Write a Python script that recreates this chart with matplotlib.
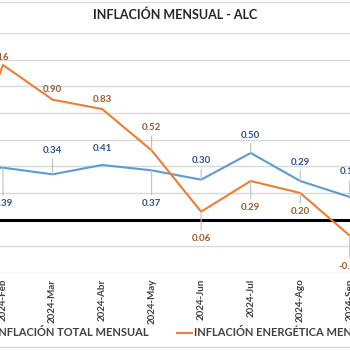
# Inflacion mensual ALC

import matplotlib
matplotlib.use("Agg")
import matplotlib.pyplot as plt
from matplotlib.patches import Rectangle

plt.rcParams['font.family'] = ['Lato', 'DejaVu Sans']

# Datos

meses = ["2024-Ene", "2024-Feb", "2024-Mar", "2024-Abr", "2024-May",
         "2024-Jun", "2024-Jul", "2024-Ago", "2024-Sep"]
inflacion_total = [0.40, 0.39, 0.34, 0.41, 0.37, 0.30, 0.50, 0.29, 0.17]
inflacion_energetica = [0.15, 1.16, 0.90, 0.83, 0.52, 0.06, 0.29, 0.20, -0.12]

# Posicion de etiquetas (pixeles) y lineas guia
off_total = [(0, -36), (0, -36), (0, 24), (0, 17), (0, -33), (0, 19), (0, 18), (0, 19), (0, 25)]
guia_total = [False, True, True, False, True, True, True, True, True]
off_energ = [(0, 8), (-4, 7), (0, 10), (0, 10), (0, 23), (0, -27), (0, -26), (0, -19), (0, -31)]
guia_energ = [False, False, False, False, True, True, True, True, True]

AZUL = "#5B9BD5"
NARANJA = "#ED7D31"
TXT_AZUL = "#2F4F8F"
TXT_NARANJA = "#9C5A2C"

# Figura

fig = plt.figure(figsize=(3.5, 3.5), dpi=100)
ax = fig.add_axes([0, 1 - 273 / 350, 1, (273 - 33) / 350])

x = list(range(len(meses)))

for g in [-0.4, -0.2, 0.2, 0.4, 0.6, 0.8, 1.0, 1.2, 1.4]:
    ax.axhline(g, color="#d9d9d9", lw=1.0, zorder=0)
ax.axhline(0, color="black", lw=2.2, zorder=1)

ax.plot(x, inflacion_total, color=AZUL, lw=1.5, zorder=3, label="INFLACIÓN TOTAL MENSUAL")
ax.plot(x, inflacion_energetica, color=NARANJA, lw=1.5, zorder=3, label="INFLACIÓN ENERGÉTICA MENSUAL")

ax.set_xticks(x)
ax.set_xticklabels(meses, rotation=90, fontsize=7, fontweight="bold", color="#404040")
ax.tick_params(axis="x", length=0, pad=4)
ax.set_yticks([])

paso = (350 - 3) / 7
ax.set_xlim(1 - 3 / paso, 8.005)
ax.set_ylim(-0.4, 1.4)


def etiquetas(valores, offs, guias, color):
    for i, v in enumerate(valores):
        props = None
        if guias[i]:
            props = dict(arrowstyle="-", color="#bfbfbf", lw=0.8, shrinkA=1, shrinkB=0)
        ax.annotate(f"{v:.2f}", xy=(x[i], v), xytext=offs[i], textcoords="offset pixels",
                    ha="center", va="center", fontsize=7, fontweight="bold",
                    color=color, arrowprops=props, zorder=4)


etiquetas(inflacion_total, off_total, guia_total, TXT_AZUL)
etiquetas(inflacion_energetica, off_energ, guia_energ, TXT_NARANJA)

for s in ax.spines.values():
    s.set_visible(False)
ax.patch.set_alpha(0)

fig.text(0.5, 1 - 15 / 350, "INFLACIÓN MENSUAL - ALC", ha="center", va="center",
         fontsize=9, fontweight="bold", color="#262626")

fig.legend(loc="center", bbox_to_anchor=(0.5 + 4 / 350, 1 - 333 / 350), ncol=2, frameon=False,
           handlelength=1.3, handletextpad=0.2, columnspacing=2.6,
           prop={"size": 8, "weight": "bold"}, labelcolor="#404040")

fig.add_artist(Rectangle((-0.05, 3 / 350), 1.1, 1 - 4.5 / 350, transform=fig.transFigure,
                         fill=False, edgecolor="#d9d9d9", lw=1.0))

fig.savefig("out.png", dpi=100)
